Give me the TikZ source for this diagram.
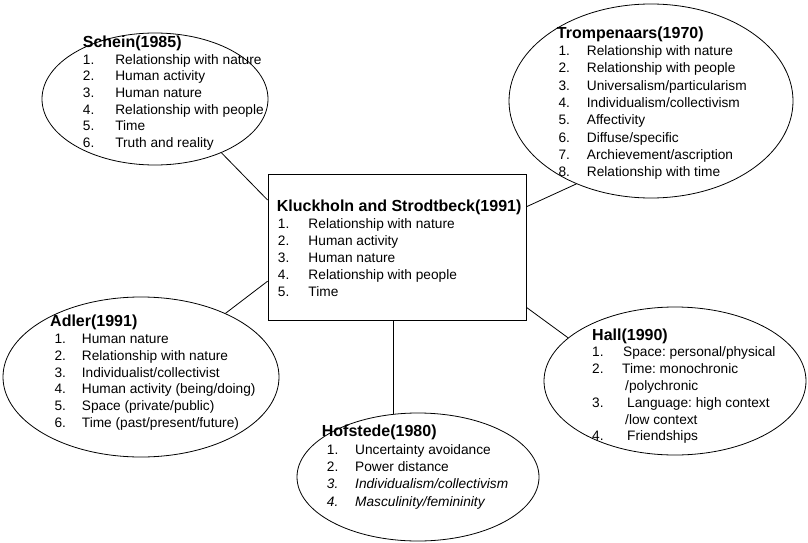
\documentclass[tikz,border=0pt]{standalone}
\usepackage{fontspec}
\setmainfont{Liberation Sans}
\usetikzlibrary{shapes.geometric,calc}
\AtBeginDocument{\frenchspacing}

% list helpers: bold heading, numbered entry with a fixed number column
\newlength\numw
\newcommand\ttl[1]{\fontsize{16}{16}\selectfont\bfseries #1}
\newcommand\itm[3][\numw]{\makebox[#1][l]{#2}#3}

\tikzset{
  line/.style={draw=black, line width=0.8pt},
  oval/.style={line, ellipse, inner sep=0pt},
  centrebox/.style={line, rectangle, inner sep=0pt},
  listtext/.style={anchor=base west, inner sep=0pt, text=black},
}

\begin{document}
\begin{tikzpicture}[x=1pt, y=-1pt]
  \useasboundingbox[fill=white] (0,0) rectangle (808,543);

  % outlines
  \node[oval, minimum width=226pt, minimum height=132pt] (schein) at (155,99) {};
  \node[oval, minimum width=284pt, minimum height=194pt] (tromp) at (651,101) {};
  \node[centrebox, minimum width=258pt, minimum height=146pt] (kluck) at (397,247) {};
  \node[oval, minimum width=276pt, minimum height=160pt] (adler) at (141,377) {};
  \node[oval, minimum width=242pt, minimum height=128pt] (hof) at (418,477) {};
  \node[oval, minimum width=262pt, minimum height=148pt] (hall) at (675,381) {};

  % connectors
  \draw[line] (schein.-39.4) -- ($(kluck.north west)!0.18!(kluck.south west)$);
  \draw[line] (tromp.-132.2) -- ($(kluck.north east)!0.226!(kluck.south east)$);
  \draw[line] (adler.37) -- ($(kluck.north west)!0.733!(kluck.south west)$);
  \draw[line] (hall.158.7) -- ($(kluck.north east)!0.911!(kluck.south east)$);
  \draw[line] (hof.111.8) -- (hof.111.8 |- kluck.south);

  % texts
  \node[listtext, font=\fontsize{13.7}{16.6}\selectfont] (scheintext) at (82.7,47.7)
    {\setlength\numw{32.4pt}\begin{tabular}[t]{@{}l@{}}
      \ttl{Schein(1985)}\\
      \itm{1.}{Relationship with nature}\\
      \itm{2.}{Human activity}\\
      \itm{3.}{Human nature}\\
      \itm{4.}{Relationship with people}\\
      \itm{5.}{Time}\\
      \itm{6.}{Truth and reality}
    \end{tabular}};

  \node[listtext, font=\fontsize{13.7}{17.3}\selectfont] (tromptext) at (556.7,38.3)
    {\setlength\numw{28.4pt}\begin{tabular}[t]{@{}l@{}}
      \ttl{Trompenaars(1970)}\\
      \hspace*{1.6pt}\itm{1.}{Relationship with nature}\\
      \hspace*{1.6pt}\itm{2.}{Relationship with people}\\
      \hspace*{1.6pt}\itm{3.}{Universalism/particularism}\\
      \hspace*{1.6pt}\itm{4.}{Individualism/collectivism}\\
      \hspace*{1.6pt}\itm{5.}{Affectivity}\\
      \hspace*{1.6pt}\itm{6.}{Diffuse/specific}\\
      \hspace*{1.6pt}\itm{7.}{Archievement/ascription}\\
      \hspace*{1.6pt}\itm{8.}{Relationship with time}
    \end{tabular}};

  \node[listtext, font=\fontsize{13.7}{16.9}\selectfont] (klucktext) at (276.7,211.7)
    {\setlength\numw{30.6pt}\begin{tabular}[t]{@{}l@{}}
      \ttl{Kluckholn and Strodtbeck(1991)}\\
      \hspace*{1pt}\itm{1.}{Relationship with nature}\\
      \hspace*{1pt}\itm{2.}{Human activity}\\
      \hspace*{1pt}\itm{3.}{Human nature}\\
      \hspace*{1pt}\itm{4.}{Relationship with people}\\
      \hspace*{1pt}\itm{5.}{Time}
    \end{tabular}};

  \node[listtext, font=\fontsize{13.7}{16.8}\selectfont] (adlertext) at (50,326.7)
    {\setlength\numw{27.4pt}\begin{tabular}[t]{@{}l@{}}
      \ttl{Adler(1991)}\\
      \hspace*{4.3pt}\itm{1.}{Human nature}\\
      \hspace*{4.3pt}\itm{2.}{Relationship with nature}\\
      \hspace*{4.3pt}\itm{3.}{Individualist/collectivist}\\
      \hspace*{4.3pt}\itm{4.}{Human activity (being/doing)}\\
      \hspace*{4.3pt}\itm{5.}{Space (private/public)}\\
      \hspace*{4.3pt}\itm{6.}{Time (past/present/future)}
    \end{tabular}};

  \node[listtext, font=\fontsize{13.7}{17.4}\selectfont] (hoftext) at (321.7,436.7)
    {\setlength\numw{28.3pt}\begin{tabular}[t]{@{}l@{}}
      \ttl{Hofstede(1980)}\\
      \hspace*{5pt}\itm{1.}{Uncertainty avoidance}\\
      \hspace*{5pt}\itm{2.}{Power distance}\\
      \hspace*{5pt}\itshape\itm{3.}{Individualism/collectivism}\\
      \hspace*{5pt}\itshape\itm{4.}{Masculinity/femininity}
    \end{tabular}};

  \node[listtext, font=\fontsize{13.7}{16.8}\selectfont] (halltext) at (592,340)
    {\begin{tabular}[t]{@{}l@{}}
      \ttl{Hall(1990)}\\
      \itm[31pt]{1.}{Space: personal/physical}\\
      \itm[30pt]{2.}{Time: monochronic}\\
      \hspace*{33pt}/polychronic\\
      \itm[35pt]{3.}{Language: high context}\\
      \hspace*{33pt}/low context\\
      \itm[35pt]{4.}{Friendships}
    \end{tabular}};
\end{tikzpicture}
\end{document}
